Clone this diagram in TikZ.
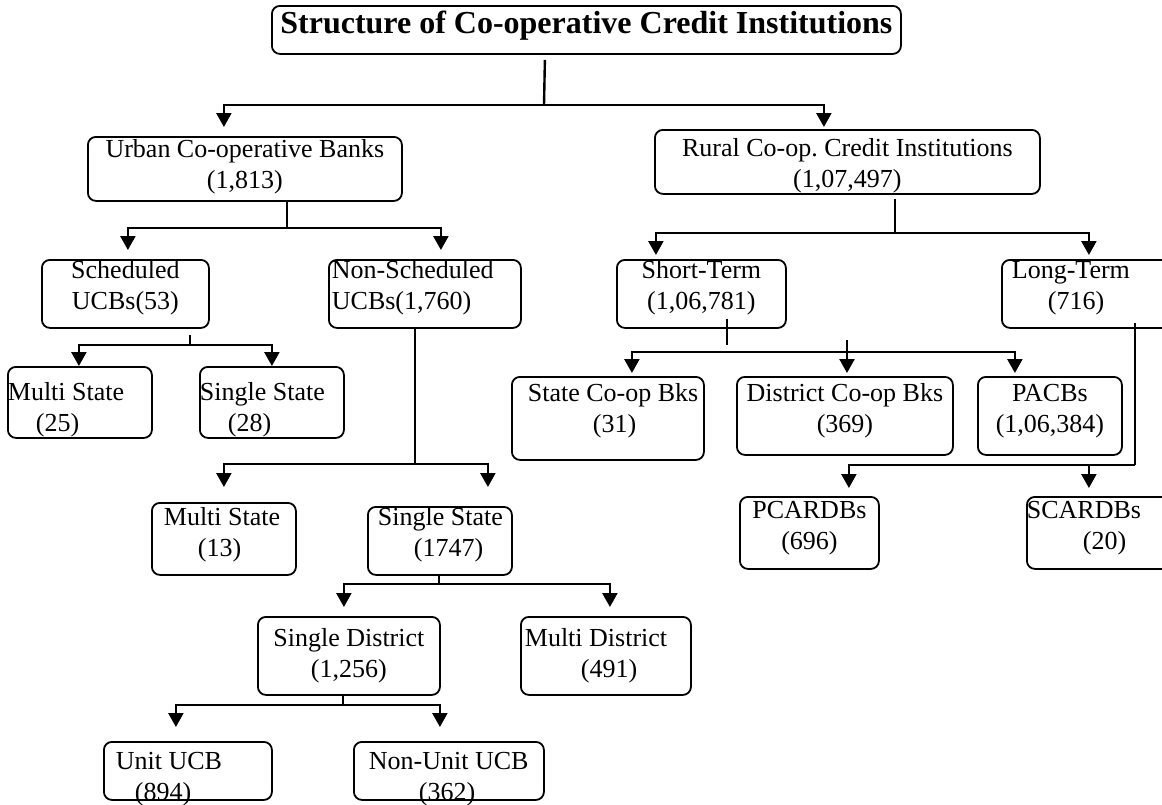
\documentclass[tikz,border=0pt]{standalone}
\usepackage{fontspec}
\setmainfont{Liberation Serif}
\usetikzlibrary{arrows.meta,calc}
\frenchspacing

\begin{document}
\begin{tikzpicture}[x=0.5pt,y=-0.5pt,
  bx/.style={draw,rounded corners=4pt,line width=0.9pt,inner sep=0pt,
    anchor=north west,font=\fontsize{13pt}{15.5pt}\selectfont},
  mid/.style={bx,align=flush center},
  lft/.style={bx,align=flush left},
  ln/.style={line width=1.2pt},
  arr/.style={-{Triangle[length=7pt,width=7.5pt]},line width=1.2pt}
]
\fill[white] (0,0) rectangle (1162,804);
\useasboundingbox (0,0) rectangle (1162,804);

% boxes
\node[mid,font=\fontsize{16pt}{19pt}\selectfont\bfseries,text width=314.5pt,text height=14pt,text depth=10pt] (ttl) at (271,5) {Structure of Co-operative Credit Institutions};
\node[mid,text width=157pt,text height=10.5pt,text depth=21.5pt] (urb) at (87,136) {Urban Co-operative Banks\\(1,813)};
\node[mid,text width=192.5pt,text height=13.5pt,text depth=18.5pt] (rur) at (654,129) {Rural Co-op. Credit Institutions\\(1,07,497)};
\node[mid,text width=83.5pt,text height=9.5pt,text depth=24.5pt] (sch) at (41,259) {Scheduled\\UCBs(53)};
\node[lft,text width=96pt,text height=9.5pt,text depth=24.5pt] (nsch) at (328,259) {\hspace*{1.5pt}Non-Scheduled\\\hspace*{1.5pt}UCBs(1,760)};
\node[mid,text width=84.5pt,text height=9.5pt,text depth=24.5pt] (sht) at (616,259) {Short-Term\\(1,06,781)};
\node[lft,text width=89.5pt,text height=9.5pt,text depth=24.5pt] (lng) at (1001,259) {\hspace*{5pt}Long-Term\\\hspace*{23pt}(716)};
\node[lft,text width=72pt,text height=17pt,text depth=18.5pt] (ms1) at (7,366) {\mbox{Multi State}\\\hspace*{14pt}(25)};
\node[lft,text width=72pt,text height=17pt,text depth=18.5pt] (ss1) at (199,366) {\mbox{Single State}\\\hspace*{14pt}(28)};
\node[lft,text width=72pt,text height=11.5pt,text depth=24.5pt] (ms2) at (151,502) {\hspace*{6pt}\mbox{Multi State}\\\hspace*{23pt}(13)};
\node[lft,text width=72pt,text height=9.5pt,text depth=24.5pt] (ss2) at (367,506) {\hspace*{5pt}\mbox{Single State}\\\hspace*{23pt}(1747)};
\node[mid,text width=91pt,text height=15pt,text depth=24pt] (sd) at (257,616) {\mbox{Single District}\\(1,256)};
\node[lft,text width=85pt,text height=15pt,text depth=24pt] (md) at (520,616) {\hspace*{2pt}\mbox{Multi District}\\\hspace*{30pt}(491)};
\node[lft,text width=84pt,text height=14pt,text depth=15pt] (uu) at (103,741) {\hspace*{6pt}\mbox{Unit UCB}\\\hspace*{15.5pt}(894)};
\node[lft,text width=95pt,text height=14pt,text depth=15pt] (nu) at (353,741) {\hspace*{7.5pt}\mbox{Non-Unit UCB}\\\hspace*{32.5pt}(362)};
\node[lft,text width=96pt,text height=12.5pt,text depth=29pt] (scb) at (511,376) {\hspace*{8pt}\mbox{State Co-op Bks}\\\hspace*{40.5pt}(31)};
\node[mid,text width=108pt,text height=12.5pt,text depth=26.5pt] (dcb) at (736,376) {\mbox{District Co-op Bks}\\(369)};
\node[mid,text width=72pt,text height=12.5pt,text depth=26.5pt] (pac) at (977,376) {PACBs\\(1,06,384)};
\node[mid,text width=69.5pt,text height=11pt,text depth=25pt] (pca) at (739,496) {PCARDBs\\(696)};
\node[lft,text width=72pt,text height=11pt,text depth=25pt] (sca) at (1026,496) {SCARDBs\\\hspace*{28pt}(20)};

% title to first level
\coordinate (j0) at (544,105);
\draw[ln] ([xshift=-20.75pt,yshift=-2.5pt]ttl.south) -- (j0);
\draw[arr,shorten >=4.5pt] (j0) -| ([xshift=-10.5pt]urb.north);
\draw[arr,shorten >=1pt] (j0) -| ([xshift=-11.75pt]rur.north);

% urban banks
\coordinate (j1) at (287,228);
\draw[ln] (urb.south -| j1) -- (j1);
\draw[arr,shorten >=4.5pt] (j1) -| ([xshift=1.25pt]sch.north);
\draw[arr,shorten >=4.5pt] (j1) -| ([xshift=8pt]nsch.north);

\coordinate (j3) at (190,345);
\draw[ln] ($(sch.south -| j3)+(0,6)$) -- (j3);
\draw[arr] (j3) -| ([xshift=-0.5pt]ms1.north);
\draw[arr] (j3) -| (ss1.north);

\coordinate (j4) at (415,464);
\draw[ln] (nsch.south -| j4) -- (j4);
\draw[arr,shorten >=7.5pt] (j4) -| (ms2.north);
\draw[arr,shorten >=9.5pt] (j4) -| ([xshift=24pt]ss2.north);

\coordinate (j5) at (439,584);
\draw[ln] (ss2.south -| j5) -- (j5);
\draw[arr,shorten >=4.5pt] (j5) -| ([xshift=-2.5pt]sd.north);
\draw[arr,shorten >=4.5pt] (j5) -| ([xshift=2pt]md.north);

\coordinate (j6) at (343,705);
\draw[ln] (sd.south -| j6) -- (j6);
\draw[arr,shorten >=7pt] (j6) -| ([xshift=-6pt]uu.north);
\draw[arr,shorten >=7pt] (j6) -| ([xshift=-4.5pt]nu.north);

% rural institutions
\coordinate (j2) at (895,233);
\draw[ln] ($(rur.south -| j2)+(0,4)$) -- (j2);
\draw[arr,shorten >=2pt] (j2) -| ([xshift=-22.75pt]sht.north);
\draw[arr,shorten >=2pt] (j2) -| ([xshift=-1.25pt]lng.north);

\coordinate (s7) at (727,345);
\coordinate (j7) at (727,352);
\draw[ln] ($(sht.south -| s7)+(0,-10)$) -- (s7);
\draw[arr,shorten >=1.5pt] (j7) -| ([xshift=12pt]scb.north);
\draw[arr,shorten >=1.5pt] (j7) -| ([xshift=-17.5pt]pac.north);
\coordinate (m7) at (847,340);
\draw[arr,shorten >=1.5pt] (m7) -- (m7 |- dcb.north);

\coordinate (j8) at (1135,465);
\draw[ln] ($(lng.south -| j8)+(0,-6)$) -- (j8);
\draw[arr,shorten >=4pt] (j8) -| ([xshift=19.75pt]pca.north);
\draw[arr,shorten >=4pt] (j8) -| ([xshift=-5pt]sca.north);
\end{tikzpicture}
\end{document}
